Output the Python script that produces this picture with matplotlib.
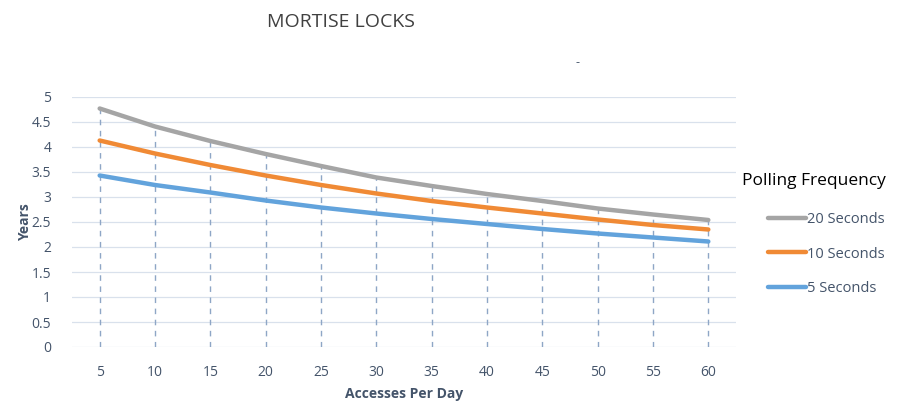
import numpy as np
import matplotlib.pyplot as plt

plt.rcParams['font.family'] = ['Open Sans', 'DejaVu Sans']

# 数据
accesses = [5, 10, 15, 20, 25, 30, 35, 40, 45, 50, 55, 60]
sec20 = [4.77, 4.41, 4.12, 3.86, 3.62, 3.39, 3.22, 3.06, 2.92, 2.77, 2.65, 2.54]
sec10 = [4.13, 3.87, 3.64, 3.43, 3.24, 3.07, 2.92, 2.79, 2.67, 2.55, 2.44, 2.35]
sec5 = [3.43, 3.24, 3.09, 2.93, 2.79, 2.67, 2.56, 2.46, 2.36, 2.27, 2.19, 2.11]
yticks = [0, 0.5, 1, 1.5, 2, 2.5, 3, 3.5, 4, 4.5, 5]
ytick_labels = ['0', '0.5', '1', '1.5', '2', '2.5', '3', '3.5', '4', '4.5', '5']

W, H = 903, 401
fig = plt.figure(figsize=(W / 100, H / 100), dpi=100)
ax = fig.add_axes([72 / W, 1 - 347 / H, (736 - 72) / W, (347 - 97) / H])

x = np.arange(len(accesses))
tick_col = '#44546A'

# 网格线
for yv in yticks:
    ax.axhline(yv, color='#D9E1EC', lw=0.9, zorder=0)

# 垂直虚线
ax.vlines(x, 0, sec20, colors='#8EA6C6', linestyles=(0, (4, 4)), lw=1.0, zorder=1)

ax.plot(x, sec20, color='#A5A5A5', lw=3.2, solid_capstyle='round', label='20 Seconds', zorder=3)
ax.plot(x, sec10, color='#F08A35', lw=3.2, solid_capstyle='round', label='10 Seconds', zorder=3)
ax.plot(x, sec5, color='#62A3DC', lw=3.2, solid_capstyle='round', label='5 Seconds', zorder=3)

ax.set_xlim(-0.5, len(accesses) - 0.5)
ax.set_ylim(0, 5)
ax.set_xticks(x)
ax.set_xticklabels([str(a) for a in accesses])
ax.set_yticks(yticks)
ax.set_yticklabels(ytick_labels)
ax.tick_params(axis='both', length=0, labelsize=10, labelcolor=tick_col)
ax.tick_params(axis='x', pad=13)
ax.tick_params(axis='y', pad=15)
for s in ax.spines.values():
    s.set_visible(False)

ax.set_ylabel('Years', fontsize=10, fontweight='bold', color=tick_col, labelpad=0)
ax.set_xlabel('Accesses Per Day', fontsize=10, fontweight='bold', color=tick_col, labelpad=5)

fig.text(341 / W, 1 - 22 / H, 'MORTISE LOCKS', fontsize=14, color='#404040',
         ha='center', va='center')
fig.text(578 / W, 1 - 63 / H, '-', fontsize=9, color='#44546A', ha='center', va='center')

# 图例
fig.text(742 / W, 1 - 181 / H, 'Polling Frequency', fontsize=12.5, color='black',
         ha='left', va='center')
leg = ax.legend(loc='center left', bbox_to_anchor=(768 / W, 1 - 254 / H),
                bbox_transform=fig.transFigure, frameon=False, fontsize=10.5,
                handlelength=2.6, handletextpad=0.1, labelspacing=1.35,
                borderpad=0, borderaxespad=0)
for t in leg.get_texts():
    t.set_color(tick_col)

fig.savefig('out.png', dpi=100)
